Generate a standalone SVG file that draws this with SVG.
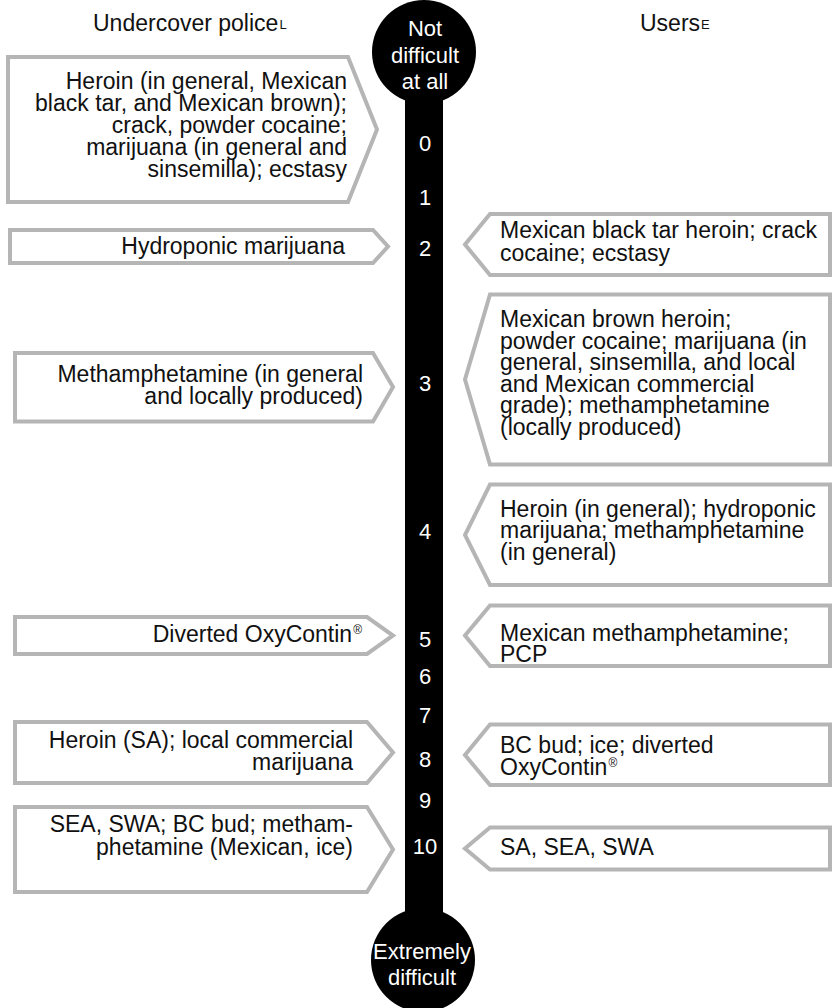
<svg xmlns="http://www.w3.org/2000/svg" width="833" height="1008" viewBox="0 0 833 1008">
<style>
text{font-family:"Liberation Sans",Arial,sans-serif;}
.box{fill:#fff;stroke:#b5b5b5;stroke-width:4;stroke-linejoin:miter;}
.t{font-size:23px;fill:#111;}
.l{text-anchor:end;}
.h{font-size:23px;fill:#111;}
.w{fill:#fff;font-size:22px;text-anchor:middle;}
.sup{font-size:13px;}
.reg{font-size:12px;}
</style>
<rect width="833" height="1008" fill="#fff"/>
<g id="headers">
<text class="h" x="93" y="31">Undercover police<tspan class="sup" dx="1" dy="-2">L</tspan></text>
<text class="h" x="640" y="31">Users<tspan class="sup" dx="1" dy="-2">E</tspan></text>
</g>
<g id="scale">
<rect x="405" y="50" width="38" height="912" fill="#000"/>
<circle cx="424" cy="52" r="52" fill="#000"/>
<circle cx="423" cy="960" r="52" fill="#000"/>
<text class="w" x="425" y="36">Not</text>
<text class="w" x="425" y="63">difficult</text>
<text class="w" x="425" y="89">at all</text>
<text class="w" x="422" y="959">Extremely</text>
<text class="w" x="422" y="985">difficult</text>
<text class="w" x="425" y="151">0</text>
<text class="w" x="425" y="205">1</text>
<text class="w" x="425" y="256">2</text>
<text class="w" x="425" y="391">3</text>
<text class="w" x="425" y="539">4</text>
<text class="w" x="425" y="647">5</text>
<text class="w" x="425" y="684">6</text>
<text class="w" x="425" y="723">7</text>
<text class="w" x="425" y="767">8</text>
<text class="w" x="425" y="808">9</text>
<text class="w" x="425" y="854">10</text>
</g>
<g id="police-0">
<polygon class="box" points="8,57 348,57 377,129.5 348,202 8,202"/>
<text class="t l" x="347" y="89">Heroin (in general, Mexican</text>
<text class="t l" x="347" y="111">black tar, and Mexican brown);</text>
<text class="t l" x="347" y="133">crack, powder cocaine;</text>
<text class="t l" x="347" y="155">marijuana (in general and</text>
<text class="t l" x="347" y="177">sinsemilla); ecstasy</text>
</g>
<g id="police-2">
<polygon class="box" points="10,230 373,230 388,246.5 373,263 10,263"/>
<text class="t l" x="345" y="254">Hydroponic marijuana</text>
</g>
<g id="police-3">
<polygon class="box" points="15,353 373,353 393,387 373,421.5 15,421.5"/>
<text class="t l" x="363" y="382">Methamphetamine (in general</text>
<text class="t l" x="363" y="404">and locally produced)</text>
</g>
<g id="police-5">
<polygon class="box" points="15,617 367,617 393,635.5 367,654 15,654"/>
<text class="t l" x="362" y="642">Diverted OxyContin<tspan class="reg" dx="1" dy="-8">®</tspan></text>
</g>
<g id="police-8">
<polygon class="box" points="15,722 367,722 393,752.5 367,783 15,783"/>
<text class="t l" x="353" y="748">Heroin (SA); local commercial</text>
<text class="t l" x="353" y="770">marijuana</text>
</g>
<g id="police-10">
<polygon class="box" points="15,807 367,807 393,849.5 367,892 15,892"/>
<text class="t l" x="353" y="832">SEA, SWA; BC bud; metham-</text>
<text class="t l" x="353" y="855">phetamine (Mexican, ice)</text>
</g>
<g id="users-2">
<polygon class="box" points="490,214 830,214 830,275 490,275 465,244.5"/>
<text class="t" x="500" y="238">Mexican black tar heroin; crack</text>
<text class="t" x="500" y="261">cocaine; ecstasy</text>
</g>
<g id="users-3">
<polygon class="box" points="490,294.5 830,294.5 830,464.5 490,464.5 465,379.5"/>
<text class="t" x="500" y="327">Mexican brown heroin;</text>
<text class="t" x="500" y="349">powder cocaine; marijuana (in</text>
<text class="t" x="500" y="370">general, sinsemilla, and local</text>
<text class="t" x="500" y="392">and Mexican commercial</text>
<text class="t" x="500" y="413">grade); methamphetamine</text>
<text class="t" x="500" y="435">(locally produced)</text>
</g>
<g id="users-4">
<polygon class="box" points="490,484.5 830,484.5 830,585 490,585 465,535"/>
<text class="t" x="500" y="517">Heroin (in general); hydroponic</text>
<text class="t" x="500" y="538">marijuana; methamphetamine</text>
<text class="t" x="500" y="560">(in general)</text>
</g>
<g id="users-5">
<polygon class="box" points="490,605.5 830,605.5 830,666 490,666 465,635.5"/>
<text class="t" x="500" y="641">Mexican methamphetamine;</text>
<text class="t" x="500" y="662">PCP</text>
</g>
<g id="users-8">
<polygon class="box" points="490,724.5 830,724.5 830,785 490,785 465,755"/>
<text class="t" x="500" y="753">BC bud; ice; diverted</text>
<text class="t" x="500" y="775">OxyContin<tspan class="reg" dx="1" dy="-8">®</tspan></text>
</g>
<g id="users-10">
<polygon class="box" points="490,827.5 830,827.5 830,869.5 490,869.5 465,848.5"/>
<text class="t" x="500" y="855">SA, SEA, SWA</text>
</g>
<g id="connectors"></g>
</svg>
